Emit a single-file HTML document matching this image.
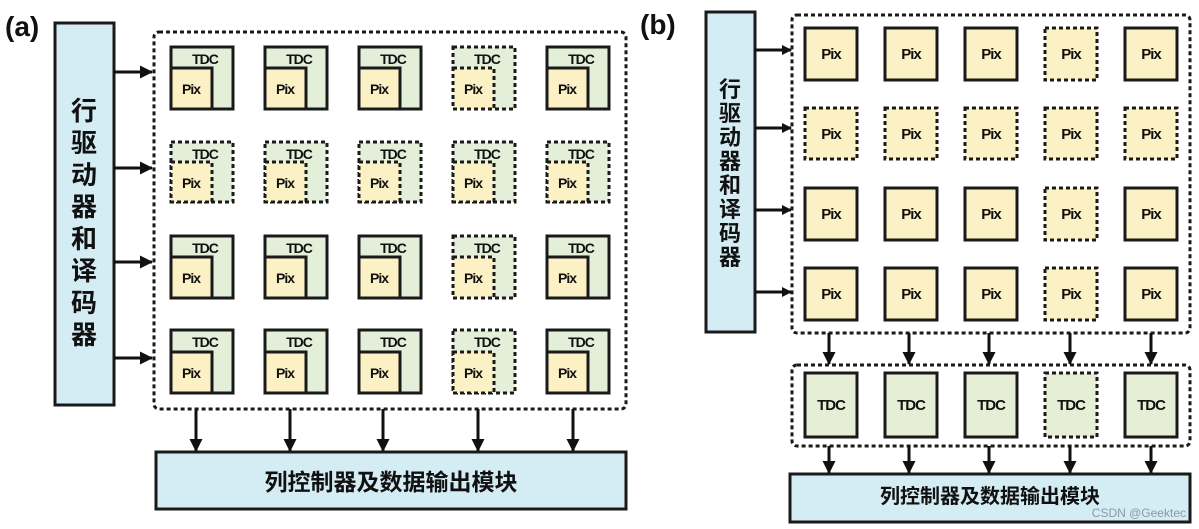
<!DOCTYPE html>
<html><head><meta charset="utf-8"><style>
html,body{margin:0;padding:0;background:#fff;}
svg{display:block;}
text{font-family:"Liberation Sans","Noto Sans CJK SC",sans-serif;font-weight:bold;fill:#111;}
.t{font-size:14px;text-anchor:middle;letter-spacing:-1px}
.p{font-size:14px;text-anchor:middle;letter-spacing:-1px}
.pb{font-size:15px;text-anchor:middle;letter-spacing:-1px}
.s{stroke:#1a1a1a;stroke-width:3;}
.d{stroke:#1a1a1a;stroke-width:3;stroke-dasharray:4 3;}
.cn{font-family:"Noto Sans CJK SC","WenQuanYi Zen Hei",sans-serif;font-weight:bold;}
</style></head><body>
<svg width="1199" height="529" viewBox="0 0 1199 529" xmlns="http://www.w3.org/2000/svg">
<defs>
<marker id="ah" markerWidth="10" markerHeight="10" refX="9" refY="5" orient="auto" markerUnits="userSpaceOnUse"><path d="M0,0 L10,5 L0,10 z" fill="#111"/></marker>
<marker id="av" markerWidth="13" markerHeight="13" refX="12" refY="6.5" orient="auto" markerUnits="userSpaceOnUse"><path d="M0,0 L13,6.5 L0,13 z" fill="#111"/></marker>
</defs>

<!-- (a) -->
<text x="5" y="36" style="font-size:28px">(a)</text>
<rect x="55" y="23" width="59" height="382" fill="#d4ecf4" class="s"/>
<text class="cn" x="84" y="120" text-anchor="middle" style="font-size:26px">行</text>
<text class="cn" x="84" y="152" text-anchor="middle" style="font-size:26px">驱</text>
<text class="cn" x="84" y="184" text-anchor="middle" style="font-size:26px">动</text>
<text class="cn" x="84" y="216" text-anchor="middle" style="font-size:26px">器</text>
<text class="cn" x="84" y="248" text-anchor="middle" style="font-size:26px">和</text>
<text class="cn" x="84" y="280" text-anchor="middle" style="font-size:26px">译</text>
<text class="cn" x="84" y="312" text-anchor="middle" style="font-size:26px">码</text>
<text class="cn" x="84" y="344" text-anchor="middle" style="font-size:26px">器</text>
<rect x="154" y="32" width="472" height="377" rx="5" fill="none" class="d"/>
<g stroke="#111" stroke-width="3" fill="none">
<line x1="114" y1="72" x2="152" y2="72" marker-end="url(#av)"/>
<line x1="114" y1="168" x2="152" y2="168" marker-end="url(#av)"/>
<line x1="114" y1="262" x2="152" y2="262" marker-end="url(#av)"/>
<line x1="114" y1="358" x2="152" y2="358" marker-end="url(#av)"/>
<line x1="196" y1="409" x2="196" y2="451" marker-end="url(#av)"/>
<line x1="290" y1="409" x2="290" y2="451" marker-end="url(#av)"/>
<line x1="383" y1="409" x2="383" y2="451" marker-end="url(#av)"/>
<line x1="478" y1="409" x2="478" y2="451" marker-end="url(#av)"/>
<line x1="573" y1="409" x2="573" y2="451" marker-end="url(#av)"/>
</g>
<rect x="156" y="452" width="470" height="57" fill="#d4ecf4" class="s"/>
<text class="cn" x="391" y="490" text-anchor="middle" style="font-size:23px">列控制器及数据输出模块</text>

<g>
<rect x="171" y="47" width="62" height="62" fill="#e3efd9" class="s"/><rect x="171" y="68" width="41" height="41" fill="#fbf1c4" class="s"/><text class="t" x="205" y="64">TDC</text><text class="p" x="191" y="94">Pix</text>
<rect x="265" y="47" width="62" height="62" fill="#e3efd9" class="s"/><rect x="265" y="68" width="41" height="41" fill="#fbf1c4" class="s"/><text class="t" x="299" y="64">TDC</text><text class="p" x="285" y="94">Pix</text>
<rect x="359" y="47" width="62" height="62" fill="#e3efd9" class="s"/><rect x="359" y="68" width="41" height="41" fill="#fbf1c4" class="s"/><text class="t" x="393" y="64">TDC</text><text class="p" x="379" y="94">Pix</text>
<rect x="453" y="47" width="62" height="62" fill="#e3efd9" class="d"/><rect x="453" y="68" width="41" height="41" fill="#fbf1c4" class="d"/><text class="t" x="487" y="64">TDC</text><text class="p" x="473" y="94">Pix</text>
<rect x="547" y="47" width="62" height="62" fill="#e3efd9" class="s"/><rect x="547" y="68" width="41" height="41" fill="#fbf1c4" class="s"/><text class="t" x="581" y="64">TDC</text><text class="p" x="567" y="94">Pix</text>
</g>
<g>
<rect x="171" y="142" width="62" height="60" fill="#e3efd9" class="d"/><rect x="171" y="162" width="41" height="40" fill="#fbf1c4" class="d"/><text class="t" x="205" y="159">TDC</text><text class="p" x="191" y="188">Pix</text>
<rect x="265" y="142" width="62" height="60" fill="#e3efd9" class="d"/><rect x="265" y="162" width="41" height="40" fill="#fbf1c4" class="d"/><text class="t" x="299" y="159">TDC</text><text class="p" x="285" y="188">Pix</text>
<rect x="359" y="142" width="62" height="60" fill="#e3efd9" class="d"/><rect x="359" y="162" width="41" height="40" fill="#fbf1c4" class="d"/><text class="t" x="393" y="159">TDC</text><text class="p" x="379" y="188">Pix</text>
<rect x="453" y="142" width="62" height="60" fill="#e3efd9" class="d"/><rect x="453" y="162" width="41" height="40" fill="#fbf1c4" class="d"/><text class="t" x="487" y="159">TDC</text><text class="p" x="473" y="188">Pix</text>
<rect x="547" y="142" width="62" height="60" fill="#e3efd9" class="d"/><rect x="547" y="162" width="41" height="40" fill="#fbf1c4" class="d"/><text class="t" x="581" y="159">TDC</text><text class="p" x="567" y="188">Pix</text>
</g>
<g>
<rect x="171" y="236" width="62" height="62" fill="#e3efd9" class="s"/><rect x="171" y="257" width="41" height="41" fill="#fbf1c4" class="s"/><text class="t" x="205" y="253">TDC</text><text class="p" x="191" y="283">Pix</text>
<rect x="265" y="236" width="62" height="62" fill="#e3efd9" class="s"/><rect x="265" y="257" width="41" height="41" fill="#fbf1c4" class="s"/><text class="t" x="299" y="253">TDC</text><text class="p" x="285" y="283">Pix</text>
<rect x="359" y="236" width="62" height="62" fill="#e3efd9" class="s"/><rect x="359" y="257" width="41" height="41" fill="#fbf1c4" class="s"/><text class="t" x="393" y="253">TDC</text><text class="p" x="379" y="283">Pix</text>
<rect x="453" y="236" width="62" height="62" fill="#e3efd9" class="d"/><rect x="453" y="257" width="41" height="41" fill="#fbf1c4" class="d"/><text class="t" x="487" y="253">TDC</text><text class="p" x="473" y="283">Pix</text>
<rect x="547" y="236" width="62" height="62" fill="#e3efd9" class="s"/><rect x="547" y="257" width="41" height="41" fill="#fbf1c4" class="s"/><text class="t" x="581" y="253">TDC</text><text class="p" x="567" y="283">Pix</text>
</g>
<g>
<rect x="171" y="330" width="62" height="63" fill="#e3efd9" class="s"/><rect x="171" y="352" width="41" height="41" fill="#fbf1c4" class="s"/><text class="t" x="205" y="347">TDC</text><text class="p" x="191" y="378">Pix</text>
<rect x="265" y="330" width="62" height="63" fill="#e3efd9" class="s"/><rect x="265" y="352" width="41" height="41" fill="#fbf1c4" class="s"/><text class="t" x="299" y="347">TDC</text><text class="p" x="285" y="378">Pix</text>
<rect x="359" y="330" width="62" height="63" fill="#e3efd9" class="s"/><rect x="359" y="352" width="41" height="41" fill="#fbf1c4" class="s"/><text class="t" x="393" y="347">TDC</text><text class="p" x="379" y="378">Pix</text>
<rect x="453" y="330" width="62" height="63" fill="#e3efd9" class="d"/><rect x="453" y="352" width="41" height="41" fill="#fbf1c4" class="d"/><text class="t" x="487" y="347">TDC</text><text class="p" x="473" y="378">Pix</text>
<rect x="547" y="330" width="62" height="63" fill="#e3efd9" class="s"/><rect x="547" y="352" width="41" height="41" fill="#fbf1c4" class="s"/><text class="t" x="581" y="347">TDC</text><text class="p" x="567" y="378">Pix</text>
</g>

<!-- (b) -->
<text x="640" y="34" style="font-size:28px">(b)</text>
<rect x="706" y="12" width="49" height="320" fill="#d4ecf4" class="s"/>
<text class="cn" x="730" y="97" text-anchor="middle" style="font-size:22px">行</text>
<text class="cn" x="730" y="121" text-anchor="middle" style="font-size:22px">驱</text>
<text class="cn" x="730" y="145" text-anchor="middle" style="font-size:22px">动</text>
<text class="cn" x="730" y="169" text-anchor="middle" style="font-size:22px">器</text>
<text class="cn" x="730" y="193" text-anchor="middle" style="font-size:22px">和</text>
<text class="cn" x="730" y="217" text-anchor="middle" style="font-size:22px">译</text>
<text class="cn" x="730" y="241" text-anchor="middle" style="font-size:22px">码</text>
<text class="cn" x="730" y="265" text-anchor="middle" style="font-size:22px">器</text>
<rect x="792" y="15" width="398" height="318" rx="5" fill="none" class="d"/>
<rect x="792" y="365" width="398" height="81" rx="5" fill="none" class="d"/>
<g stroke="#111" stroke-width="3" fill="none">
<line x1="755" y1="50" x2="791" y2="50" marker-end="url(#ah)"/>
<line x1="755" y1="128" x2="791" y2="128" marker-end="url(#ah)"/>
<line x1="755" y1="210" x2="791" y2="210" marker-end="url(#ah)"/>
<line x1="755" y1="292" x2="791" y2="292" marker-end="url(#ah)"/>
<line x1="829" y1="333" x2="829" y2="364" marker-end="url(#av)"/>
<line x1="909" y1="333" x2="909" y2="364" marker-end="url(#av)"/>
<line x1="989" y1="333" x2="989" y2="364" marker-end="url(#av)"/>
<line x1="1070" y1="333" x2="1070" y2="364" marker-end="url(#av)"/>
<line x1="1151" y1="333" x2="1151" y2="364" marker-end="url(#av)"/>
<line x1="829" y1="446" x2="829" y2="473" marker-end="url(#av)"/>
<line x1="909" y1="446" x2="909" y2="473" marker-end="url(#av)"/>
<line x1="989" y1="446" x2="989" y2="473" marker-end="url(#av)"/>
<line x1="1070" y1="446" x2="1070" y2="473" marker-end="url(#av)"/>
<line x1="1151" y1="446" x2="1151" y2="473" marker-end="url(#av)"/>
</g>
<g>
<rect x="805" y="28" width="52" height="52" fill="#fbf1c4" class="s"/><text class="pb" x="831" y="59">Pix</text>
<rect x="885" y="28" width="52" height="52" fill="#fbf1c4" class="s"/><text class="pb" x="911" y="59">Pix</text>
<rect x="965" y="28" width="52" height="52" fill="#fbf1c4" class="s"/><text class="pb" x="991" y="59">Pix</text>
<rect x="1045" y="28" width="52" height="52" fill="#fbf1c4" class="d"/><text class="pb" x="1071" y="59">Pix</text>
<rect x="1125" y="28" width="52" height="52" fill="#fbf1c4" class="s"/><text class="pb" x="1151" y="59">Pix</text>

<rect x="805" y="108" width="52" height="51" fill="#fbf1c4" class="d"/><text class="pb" x="831" y="139">Pix</text>
<rect x="885" y="108" width="52" height="51" fill="#fbf1c4" class="d"/><text class="pb" x="911" y="139">Pix</text>
<rect x="965" y="108" width="52" height="51" fill="#fbf1c4" class="d"/><text class="pb" x="991" y="139">Pix</text>
<rect x="1045" y="108" width="52" height="51" fill="#fbf1c4" class="d"/><text class="pb" x="1071" y="139">Pix</text>
<rect x="1125" y="108" width="52" height="51" fill="#fbf1c4" class="d"/><text class="pb" x="1151" y="139">Pix</text>

<rect x="805" y="188" width="52" height="52" fill="#fbf1c4" class="s"/><text class="pb" x="831" y="219">Pix</text>
<rect x="885" y="188" width="52" height="52" fill="#fbf1c4" class="s"/><text class="pb" x="911" y="219">Pix</text>
<rect x="965" y="188" width="52" height="52" fill="#fbf1c4" class="s"/><text class="pb" x="991" y="219">Pix</text>
<rect x="1045" y="188" width="52" height="52" fill="#fbf1c4" class="d"/><text class="pb" x="1071" y="219">Pix</text>
<rect x="1125" y="188" width="52" height="52" fill="#fbf1c4" class="s"/><text class="pb" x="1151" y="219">Pix</text>

<rect x="805" y="268" width="52" height="52" fill="#fbf1c4" class="s"/><text class="pb" x="831" y="299">Pix</text>
<rect x="885" y="268" width="52" height="52" fill="#fbf1c4" class="s"/><text class="pb" x="911" y="299">Pix</text>
<rect x="965" y="268" width="52" height="52" fill="#fbf1c4" class="s"/><text class="pb" x="991" y="299">Pix</text>
<rect x="1045" y="268" width="52" height="52" fill="#fbf1c4" class="d"/><text class="pb" x="1071" y="299">Pix</text>
<rect x="1125" y="268" width="52" height="52" fill="#fbf1c4" class="s"/><text class="pb" x="1151" y="299">Pix</text>

<rect x="805" y="373" width="52" height="64" fill="#e6efd6" class="s"/><text class="pb" x="831" y="410">TDC</text>
<rect x="885" y="373" width="52" height="64" fill="#e6efd6" class="s"/><text class="pb" x="911" y="410">TDC</text>
<rect x="965" y="373" width="52" height="64" fill="#e6efd6" class="s"/><text class="pb" x="991" y="410">TDC</text>
<rect x="1045" y="373" width="52" height="64" fill="#e6efd6" class="d"/><text class="pb" x="1071" y="410">TDC</text>
<rect x="1125" y="373" width="52" height="64" fill="#e6efd6" class="s"/><text class="pb" x="1151" y="410">TDC</text>
</g>
<rect x="790" y="474" width="400" height="48" fill="#d4ecf4" class="s"/>
<text class="cn" x="990" y="503" text-anchor="middle" style="font-size:20px">列控制器及数据输出模块</text>
<text x="1186" y="517" text-anchor="end" style="font-size:12px;font-weight:normal;fill:#8a9aa0">CSDN @Geektec</text>
</svg>
</body></html>
